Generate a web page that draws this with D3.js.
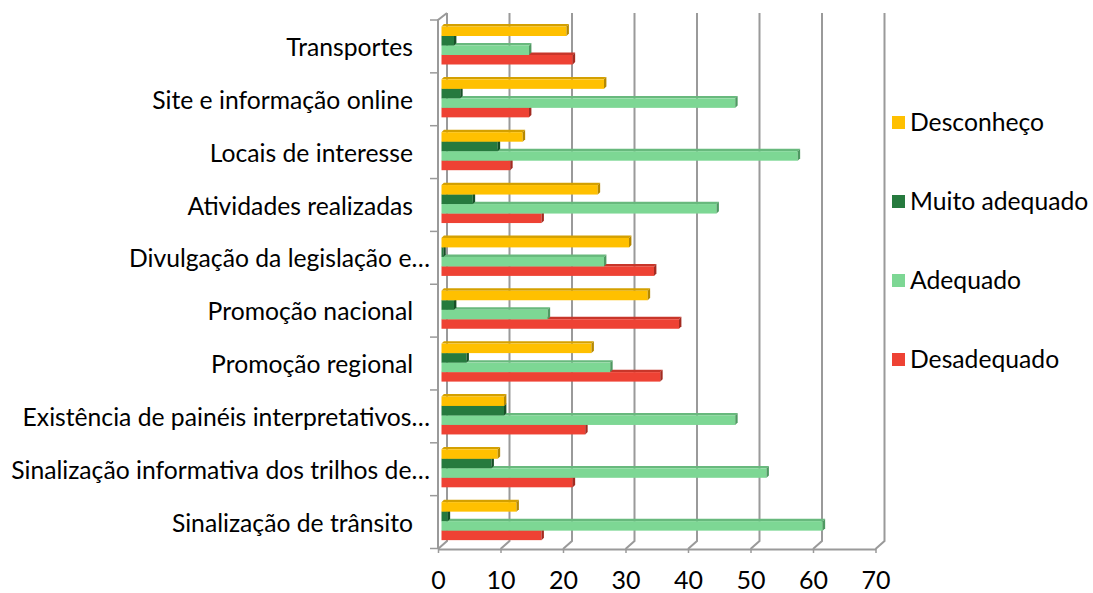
<!DOCTYPE html>
<html>
<head>
<meta charset="utf-8">
<script src="https://cdn.jsdelivr.net/npm/d3@7"></script>
<style>
  body { margin: 0; background: #fff; }
  text { font-family: Lato, "Open Sans", sans-serif; fill: #000; }
</style>
</head>
<body>
<div id="chart"></div>
<script>
// categories top to bottom
var categories = ['Transportes', 'Site e informação online', 'Locais de interesse',
  'Atividades realizadas', 'Divulgação da legislação e…', 'Promoção nacional',
  'Promoção regional', 'Existência de painéis interpretativos…',
  'Sinalização informativa dos trilhos de…', 'Sinalização de trânsito'];
var series = ['Desconheço', 'Muito adequado', 'Adequado', 'Desadequado'];

var desconheco    = [20, 26, 13, 25, 30, 33, 24, 10, 9, 12];
var muitoAdequado = [2, 3, 9, 5, 0.3, 2, 4, 10, 8, 1];
var adequado      = [14, 47, 57, 44, 26, 17, 27, 47, 52, 61];
var desadequado   = [21, 14, 11, 16, 34, 38, 35, 23, 21, 16];

var xTicks = [0, 10, 20, 30, 40, 50, 60, 70];

var values = [desconheco, muitoAdequado, adequado, desadequado];

// front / top / side shades for the fake 3d bars
var colors = {
  'Desconheço':     { front: '#ffc000', top: '#d4a000', side: '#b58800' },
  'Muito adequado': { front: '#267a3e', top: '#1f6633', side: '#174f27' },
  'Adequado':       { front: '#7dd794', top: '#68b97d', side: '#4f9962' },
  'Desadequado':    { front: '#ee4234', top: '#c8362a', side: '#a32b21' }
};

var width = 1093, height = 593;
var floorY = 549, backY = 541, topY = 13;
var depth = 2.4; // bar depth in px
var fontSize = 24.7;

var xFront = d3.scaleLinear().domain([0, 70]).range([438, 875.5]);
var xBack  = d3.scaleLinear().domain([0, 70]).range([447, 884.5]);
var xBar   = d3.scaleLinear().domain([0, 70]).range([441.5, 879]);

var yScale = d3.scaleBand().domain(categories).range([20, 548.5]);
var ySub   = d3.scaleBand().domain(series).range([6.5, 44.5]);

var svg = d3.select('#chart')
  .append('svg')
  .attr('width', width)
  .attr('height', height);

// back wall gridlines, running down onto the floor
svg.append('g')
  .attr('class', 'grid')
  .selectAll('path')
  .data(xTicks)
  .enter()
  .append('path')
  .attr('d', function(d) {
    return 'M' + xBack(d) + ',' + topY + 'V' + backY + 'L' + xFront(d) + ',' + floorY;
  })
  .attr('fill', 'none')
  .attr('stroke', '#9a9a9a')
  .attr('stroke-width', 2);

// left wall edge
svg.append('path')
  .attr('d', 'M' + xFront(0) + ',' + floorY + 'V20L' + xBack(0) + ',' + topY)
  .attr('fill', 'none')
  .attr('stroke', '#9a9a9a')
  .attr('stroke-width', 2);

// category ticks at band edges
var catEdges = categories.map(function(c) { return yScale(c); }).concat([yScale.range()[1]]);
svg.append('g')
  .selectAll('line')
  .data(catEdges)
  .enter()
  .append('line')
  .attr('x1', 430)
  .attr('x2', xFront(0))
  .attr('y1', function(d) { return d; })
  .attr('y2', function(d) { return d; })
  .attr('stroke', '#9a9a9a')
  .attr('stroke-width', 1.5);

// value axis on the front floor edge
var xAxis = d3.axisBottom(xFront)
  .tickValues(xTicks)
  .tickSize(4)
  .tickSizeOuter(0)
  .tickPadding(18);

var axisG = svg.append('g')
  .attr('class', 'x axis')
  .attr('transform', 'translate(0,' + floorY + ')')
  .call(xAxis);
axisG.select('.domain').attr('stroke', '#9a9a9a').attr('stroke-width', 2);
axisG.selectAll('.tick line').attr('stroke', '#9a9a9a').attr('stroke-width', 1.5);
axisG.selectAll('.tick text')
  .style('font-family', 'Lato, "Open Sans", sans-serif')
  .attr('font-size', 25)
  .attr('fill', '#000');

// bars
var catG = svg.append('g')
  .selectAll('g.cat')
  .data(categories)
  .enter()
  .append('g')
  .attr('class', 'cat')
  .attr('transform', function(d) { return 'translate(0,' + yScale(d) + ')'; });

// draw bottom series first so upper bars hide their top faces
var order = series.slice().reverse();
catG.each(function(cat, i) {
  var g = d3.select(this);
  order.forEach(function(s) {
    var v = values[series.indexOf(s)][i];
    var x0 = xBar(0), x1 = xBar(v);
    var y0 = ySub(s), h = ySub.bandwidth();
    var c = colors[s];
    g.append('path')
      .attr('d', 'M' + x0 + ',' + y0 + 'L' + (x0 + depth) + ',' + (y0 - depth) +
        'L' + (x1 + depth) + ',' + (y0 - depth) + 'L' + x1 + ',' + y0 + 'Z')
      .attr('fill', c.top);
    g.append('rect')
      .attr('x', x0)
      .attr('y', y0)
      .attr('width', x1 - x0)
      .attr('height', h)
      .attr('fill', c.front);
    g.append('path')
      .attr('d', 'M' + x1 + ',' + y0 + 'L' + (x1 + depth) + ',' + (y0 - depth) +
        'L' + (x1 + depth) + ',' + (y0 + h - depth) + 'L' + x1 + ',' + (y0 + h) + 'Z')
      .attr('fill', c.side);
  });
});

// category labels
svg.append('g')
  .selectAll('text')
  .data(categories)
  .enter()
  .append('text')
  .attr('x', function(d) { return d.slice(-1) === '…' ? 430 : 413; })
  .attr('y', function(d) { return yScale(d) + yScale.bandwidth() / 2 + 1; })
  .attr('dy', '0.35em')
  .attr('text-anchor', 'end')
  .attr('font-size', fontSize)
  .text(function(d) { return d; });

// legend
var legend = svg.append('g')
  .selectAll('g.leg')
  .data(series)
  .enter()
  .append('g')
  .attr('class', 'leg')
  .attr('transform', function(d, i) { return 'translate(892,' + (122.5 + i * 79) + ')'; });

legend.append('rect')
  .attr('x', 0)
  .attr('y', -6.5)
  .attr('width', 13)
  .attr('height', 13)
  .attr('fill', function(d) { return colors[d].front; });

legend.append('text')
  .attr('x', 18)
  .attr('y', 0)
  .attr('dy', '0.35em')
  .attr('font-size', fontSize)
  .text(function(d) { return d; });
</script>
</body>
</html>
